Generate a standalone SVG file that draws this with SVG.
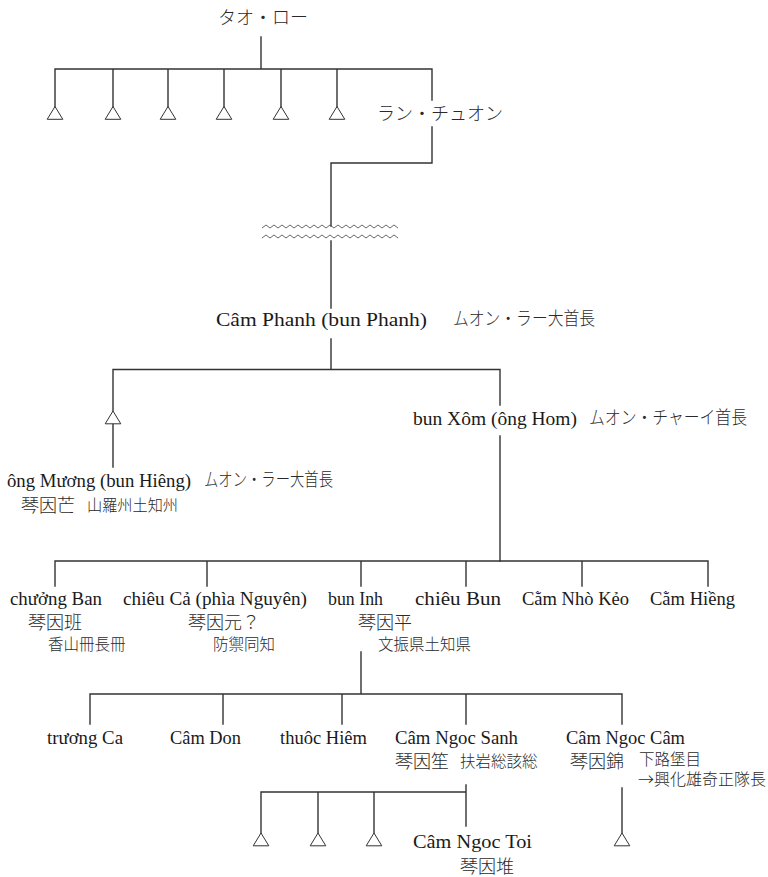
<svg xmlns="http://www.w3.org/2000/svg" width="768" height="877" viewBox="0 0 768 877">
<style>
.bg{fill:#ffffff}
.ln{stroke:#333333;stroke-width:1.4;fill:none;stroke-linecap:square}
.wv{stroke:#444444;stroke-width:0.8;fill:none}
.tri{fill:#ffffff;stroke:#333333;stroke-width:1}
.la{font-family:"Liberation Serif","Noto Sans CJK JP",serif;font-size:19px;fill:#1a1a1a}
.jp{font-family:"Noto Sans CJK JP","Liberation Serif",sans-serif;font-size:18px;fill:#2a2a2a;font-weight:300}
.js{font-family:"Noto Sans CJK JP","Liberation Serif",sans-serif;font-size:15.5px;fill:#2a2a2a;font-weight:300}
</style>
<defs>
<path id="tri" d="M0,0 L7.8,12.8 L-7.8,12.8 Z"/>
</defs>
<rect class="bg" x="0" y="0" width="768" height="877"/>

<g id="connectors">
<path class="ln" d="M261,37 V69 M55,69 H432 M55,69 V107 M113,69 V107 M168,69 V107 M224,69 V107 M281,69 V107 M337,69 V107 M432,69 V100"/>
<path class="ln" d="M432,127 V163 H331 V226 M331,241 V308"/>
<polyline class="wv" points="262,228 266,225 270,228 274,225 278,228 282,225 286,228 290,225 294,228 298,225 302,228 306,225 310,228 314,225 318,228 322,225 326,228 330,225 334,228 338,225 342,228 346,225 350,228 354,225 358,228 362,225 366,228 370,225 374,228 378,225 382,228 386,225 390,228 394,225 398,228"/>
<polyline class="wv" points="262,238 266,235 270,238 274,235 278,238 282,235 286,238 290,235 294,238 298,235 302,238 306,235 310,238 314,235 318,238 322,235 326,238 330,235 334,238 338,235 342,238 346,235 350,238 354,235 358,238 362,235 366,238 370,235 374,238 378,235 382,238 386,235 390,238 394,235 398,238"/>
<path class="ln" d="M331,339 V369.5 M113,369.5 H500 M113,369.5 V411 M113,424 V467 M500,369.5 V405 M500,436 V561"/>
<path class="ln" d="M55,561 H708 M55,561 V586 M207,561 V586 M361,561 V586 M466,561 V586 M582,561 V586 M708,561 V586"/>
<path class="ln" d="M361,652 V694 M90,694 H622 M90,694 V724 M223,694 V724 M342,694 V724 M466,694 V724 M622,694 V724"/>
<path class="ln" d="M466,785 V826 M261,792 H466 M261,792 V833 M318,792 V833 M374,792 V833 M622,788 V833"/>
</g>

<g id="node-taolo"><text class="jp" x="263" y="23.5" text-anchor="middle">タオ・ロー</text></g>
<g id="node-unknown1"><use href="#tri" class="tri" x="55" y="106.5"/></g>
<g id="node-unknown2"><use href="#tri" class="tri" x="113" y="106.5"/></g>
<g id="node-unknown3"><use href="#tri" class="tri" x="168" y="106.5"/></g>
<g id="node-unknown4"><use href="#tri" class="tri" x="224" y="106.5"/></g>
<g id="node-unknown5"><use href="#tri" class="tri" x="281" y="106.5"/></g>
<g id="node-unknown6"><use href="#tri" class="tri" x="337" y="106.5"/></g>
<g id="node-lanchuon"><text class="jp" x="377" y="119.5">ラン・チュオン</text></g>

<g id="node-camphanh">
<text class="la" x="216" y="326" font-size="21" textLength="211" lengthAdjust="spacingAndGlyphs">Câm Phanh (bun Phanh)</text>
<text class="jp" x="453" y="325" font-size="16" textLength="142" lengthAdjust="spacingAndGlyphs">ムオン・ラー大首長</text>
</g>

<g id="node-unknown7"><use href="#tri" class="tri" x="113" y="411"/></g>

<g id="node-bunxom">
<text class="la" x="413" y="425" font-size="20" textLength="164" lengthAdjust="spacingAndGlyphs">bun Xôm (ông Hom)</text>
<text class="jp" x="589" y="424" font-size="16" textLength="158" lengthAdjust="spacingAndGlyphs">ムオン・チャーイ首長</text>
</g>

<g id="node-ongmuong">
<text class="la" x="7" y="487" font-size="19.5" textLength="184" lengthAdjust="spacingAndGlyphs">ông Mương (bun Hiêng)</text>
<text class="jp" x="204" y="486" font-size="14.5" textLength="129" lengthAdjust="spacingAndGlyphs">ムオン・ラー大首長</text>
<text class="jp" x="21" y="512">琴因芒</text>
<text class="js" x="87" y="511" font-size="15" textLength="91" lengthAdjust="spacingAndGlyphs">山羅州土知州</text>
</g>

<g id="node-chuongban">
<text class="la" x="10" y="605" textLength="92" lengthAdjust="spacingAndGlyphs">chưởng Ban</text>
<text class="jp" x="28" y="629">琴因班</text>
<text class="js" x="48" y="650">香山冊長冊</text>
</g>
<g id="node-chieuca">
<text class="la" x="123" y="605" textLength="184" lengthAdjust="spacingAndGlyphs">chiêu Cả (phìa Nguyên)</text>
<text class="jp" x="188" y="629">琴因元？</text>
<text class="js" x="213" y="650" font-size="16.5">防禦同知</text>
</g>
<g id="node-buninh">
<text class="la" x="328" y="605" textLength="55" lengthAdjust="spacingAndGlyphs">bun Inh</text>
<text class="jp" x="358" y="629">琴因平</text>
<text class="js" x="378" y="650">文振県土知県</text>
</g>
<g id="node-chieubun"><text class="la" x="415" y="605" textLength="86" lengthAdjust="spacingAndGlyphs">chiêu Bun</text></g>
<g id="node-camnhokeo"><text class="la" x="522" y="605" textLength="107" lengthAdjust="spacingAndGlyphs">Cằm Nhò Kẻo</text></g>
<g id="node-camhieng"><text class="la" x="650" y="605" textLength="85" lengthAdjust="spacingAndGlyphs">Cằm Hiềng</text></g>

<g id="node-truongca"><text class="la" x="47" y="744" textLength="76" lengthAdjust="spacingAndGlyphs">trương Ca</text></g>
<g id="node-camdon"><text class="la" x="170" y="744" textLength="71" lengthAdjust="spacingAndGlyphs">Câm Don</text></g>
<g id="node-thuochiem"><text class="la" x="280" y="744" textLength="87" lengthAdjust="spacingAndGlyphs">thuôc Hiêm</text></g>
<g id="node-camngocsanh">
<text class="la" x="395" y="744" textLength="123" lengthAdjust="spacingAndGlyphs">Câm Ngoc Sanh</text>
<text class="jp" x="395" y="768">琴因笙</text>
<text class="js" x="460" y="767" font-size="15.3">扶岩総該総</text>
</g>
<g id="node-camngoccam">
<text class="la" x="566" y="744" textLength="119" lengthAdjust="spacingAndGlyphs">Câm Ngoc Câm</text>
<text class="jp" x="570" y="768">琴因錦</text>
<text class="js" x="639" y="765" font-size="14.5">下路堡目</text>
<text class="js" x="638" y="785" font-size="15.5" textLength="128" lengthAdjust="spacingAndGlyphs">→興化雄奇正隊長</text>
</g>

<g id="node-unknown8"><use href="#tri" class="tri" x="261" y="833"/></g>
<g id="node-unknown9"><use href="#tri" class="tri" x="318" y="833"/></g>
<g id="node-unknown10"><use href="#tri" class="tri" x="374" y="833"/></g>
<g id="node-camngoctoi">
<text class="la" x="413" y="848" textLength="119" lengthAdjust="spacingAndGlyphs">Câm Ngoc Toi</text>
<text class="jp" x="460" y="873">琴因堆</text>
</g>
<g id="node-unknown11"><use href="#tri" class="tri" x="622" y="833"/></g>
</svg>
